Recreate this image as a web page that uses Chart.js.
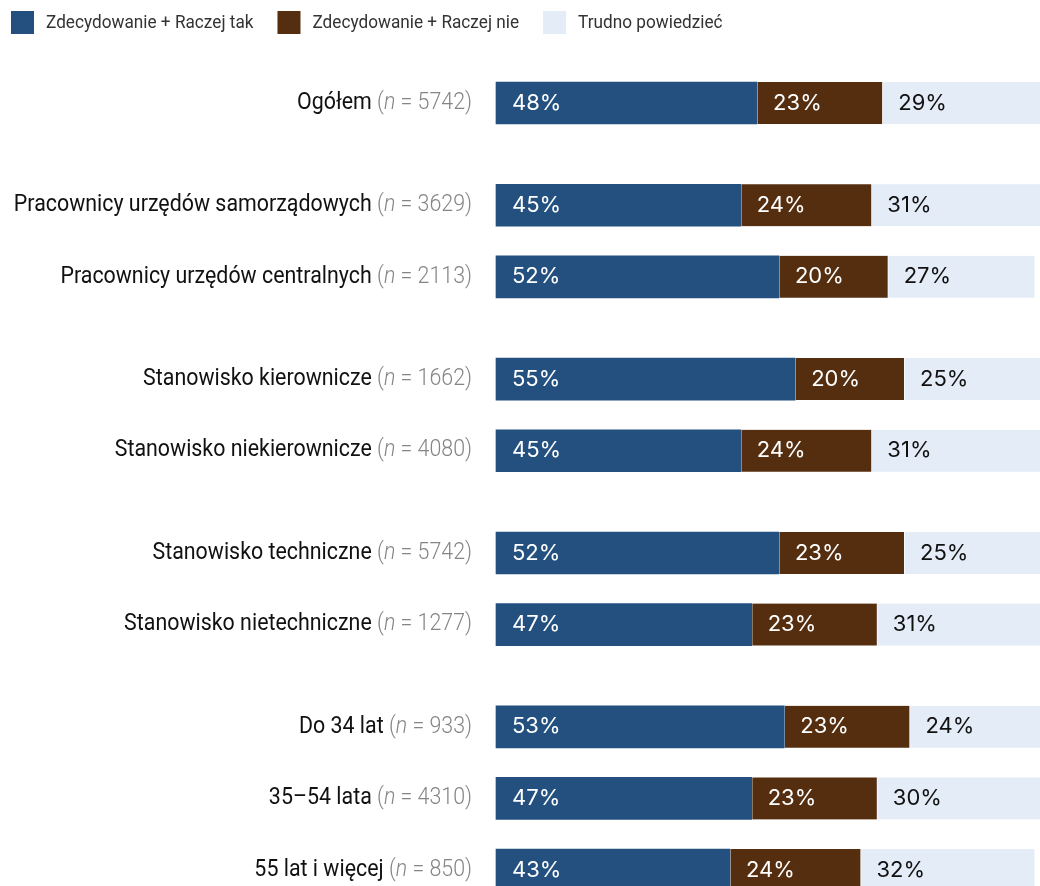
<!DOCTYPE html>
<html lang="pl">
<head>
<meta charset="utf-8">
<script src="https://cdn.jsdelivr.net/npm/chart.js@4.4.1/dist/chart.umd.min.js"></script>
<style>
  body { margin: 0; background: #fff; }
  #box { width: 1040px; height: 886px; position: relative; }
</style>
</head>
<body>
<div id="box"><canvas id="wykres"></canvas></div>
<script>
const kategorie = [
    'Ogółem',
    'Pracownicy urzędów samorządowych',
    'Pracownicy urzędów centralnych',
    'Stanowisko kierownicze',
    'Stanowisko niekierownicze',
    'Stanowisko techniczne',
    'Stanowisko nietechniczne',
    'Do 34 lat',
    '35–54 lata',
    '55 lat i więcej'
];
const liczebnosc = [5742, 3629, 2113, 1662, 4080, 5742, 1277, 933, 4310, 850];
const grupy = [1, 2, 2, 2, 3]; // ile wierszy w kazdym bloku
const tak = [48, 45, 52, 55, 45, 52, 47, 53, 47, 43];
const nie = [23, 24, 20, 20, 24, 23, 23, 23, 23, 24];
const trudno = [29, 31, 27, 25, 31, 25, 31, 24, 30, 32];
const nazwySerii = ['Zdecydowanie + Raczej tak', 'Zdecydowanie + Raczej nie', 'Trudno powiedzieć'];

const KOLORY = ['#23507f', '#542e0f', '#e4ecf7'];
const KROK_WIERSZ = 7;   // odstep miedzy wierszami w bloku (w slotach osi)
const KROK_GRUPA = 10;   // odstep miedzy blokami
const FONT_ETYKIET = 'Roboto, "DejaVu Sans Condensed", sans-serif';
const FONT_PROCENT = 'Inter, "Liberation Sans", sans-serif';
const SCISK = 0.93;      // zwezenie tekstu etykiet (krój waski)

// pozycje wierszy na osi kategorii, z pustymi slotami jako przerwy
const sloty = [];
let s = 0;
grupy.forEach(ile => {
    for (let k = 0; k < ile; k++) {
        if (sloty.length) s += (k === 0 ? KROK_GRUPA : KROK_WIERSZ);
        sloty.push(s);
    }
});
const etykietyOsi = new Array(s + 1).fill('');
sloty.forEach((slot, i) => { etykietyOsi[slot] = kategorie[i]; });

function rozloz(wartosci) {
    const out = new Array(etykietyOsi.length).fill(null);
    sloty.forEach((slot, i) => { out[slot] = wartosci[i]; });
    return out;
}

// tekst zwezony w poziomie, zwraca szerokosc
function pisz(ctx, tekst, x, y) {
    ctx.save();
    ctx.translate(x, y);
    ctx.scale(SCISK, 1);
    ctx.fillText(tekst, 0, 0);
    ctx.restore();
    return ctx.measureText(tekst).width * SCISK;
}

// etykiety wierszy po lewej: nazwa + (n = ...) na szaro
const etykietyWierszy = {
    id: 'etykietyWierszy',
    afterDraw(chart) {
        const ctx = chart.ctx;
        const y = chart.scales.y;
        const prawa = chart.chartArea.left - 24;
        ctx.save();
        ctx.textBaseline = 'middle';
        ctx.textAlign = 'left';
        sloty.forEach((slot, i) => {
            const py = y.getPixelForValue(slot);
            const czesci = [
                { t: kategorie[i] + ' ', f: '23px ' + FONT_ETYKIET, c: '#111' },
                { t: '(', f: '300 23px ' + FONT_ETYKIET, c: '#858585' },
                { t: 'n', f: 'italic 300 23px ' + FONT_ETYKIET, c: '#858585' },
                { t: ' = ' + liczebnosc[i] + ')', f: '300 23px ' + FONT_ETYKIET, c: '#858585' }
            ];
            let szer = 0;
            czesci.forEach(p => { ctx.font = p.f; p.w = ctx.measureText(p.t).width * SCISK; szer += p.w; });
            let x = prawa - szer;
            czesci.forEach(p => {
                ctx.font = p.f;
                ctx.fillStyle = p.c;
                x += pisz(ctx, p.t, x, py);
            });
        });
        ctx.restore();
    }
};

// wartosci procentowe wewnatrz segmentow
const wartosciSlupkow = {
    id: 'wartosciSlupkow',
    afterDatasetsDraw(chart) {
        const ctx = chart.ctx;
        ctx.save();
        ctx.font = '22px ' + FONT_PROCENT;
        ctx.textBaseline = 'middle';
        ctx.textAlign = 'left';
        chart.data.datasets.forEach((ds, d) => {
            const meta = chart.getDatasetMeta(d);
            sloty.forEach(slot => {
                const el = meta.data[slot];
                const v = ds.data[slot];
                if (!el || v == null) return;
                ctx.fillStyle = d < 2 ? '#fff' : '#111';
                ctx.fillText(v + '%', Math.min(el.base, el.x) + 16, el.y);
            });
        });
        ctx.restore();
    }
};

// legenda u gory
const legendaGora = {
    id: 'legendaGora',
    afterDraw(chart) {
        const ctx = chart.ctx;
        ctx.save();
        ctx.font = '18.5px ' + FONT_ETYKIET;
        ctx.textBaseline = 'middle';
        let x = 11;
        chart.data.datasets.forEach(ds => {
            ctx.fillStyle = ds.backgroundColor;
            ctx.fillRect(x, 11, 23, 23);
            ctx.fillStyle = '#333';
            x += 35 + pisz(ctx, ds.label, x + 35, 23) + 24;
        });
        ctx.restore();
    }
};

const seria = (nazwa, wartosci, kolor, pierwsza) => ({
    label: nazwa,
    data: rozloz(wartosci),
    backgroundColor: kolor,
    borderColor: '#fff',
    borderWidth: pierwsza ? 0 : { left: 1, top: 0, right: 0, bottom: 0 },
    borderSkipped: false,
    barThickness: 42,
    clip: false
});

new Chart(document.getElementById('wykres'), {
    type: 'bar',
    data: {
        labels: etykietyOsi,
        datasets: [
            seria(nazwySerii[0], tak, KOLORY[0], true),
            seria(nazwySerii[1], nie, KOLORY[1], false),
            seria(nazwySerii[2], trudno, KOLORY[2], false)
        ]
    },
    options: {
        indexAxis: 'y',
        responsive: true,
        maintainAspectRatio: false,
        animation: false,
        layout: { padding: { left: 496, right: 0, top: 103, bottom: 16 } },
        scales: {
            x: { stacked: true, min: 0, max: 100, display: false },
            y: { stacked: true, offset: false, display: false }
        },
        plugins: {
            legend: { display: false },
            tooltip: { enabled: false }
        }
    },
    plugins: [wartosciSlupkow, etykietyWierszy, legendaGora]
});
</script>
</body>
</html>
